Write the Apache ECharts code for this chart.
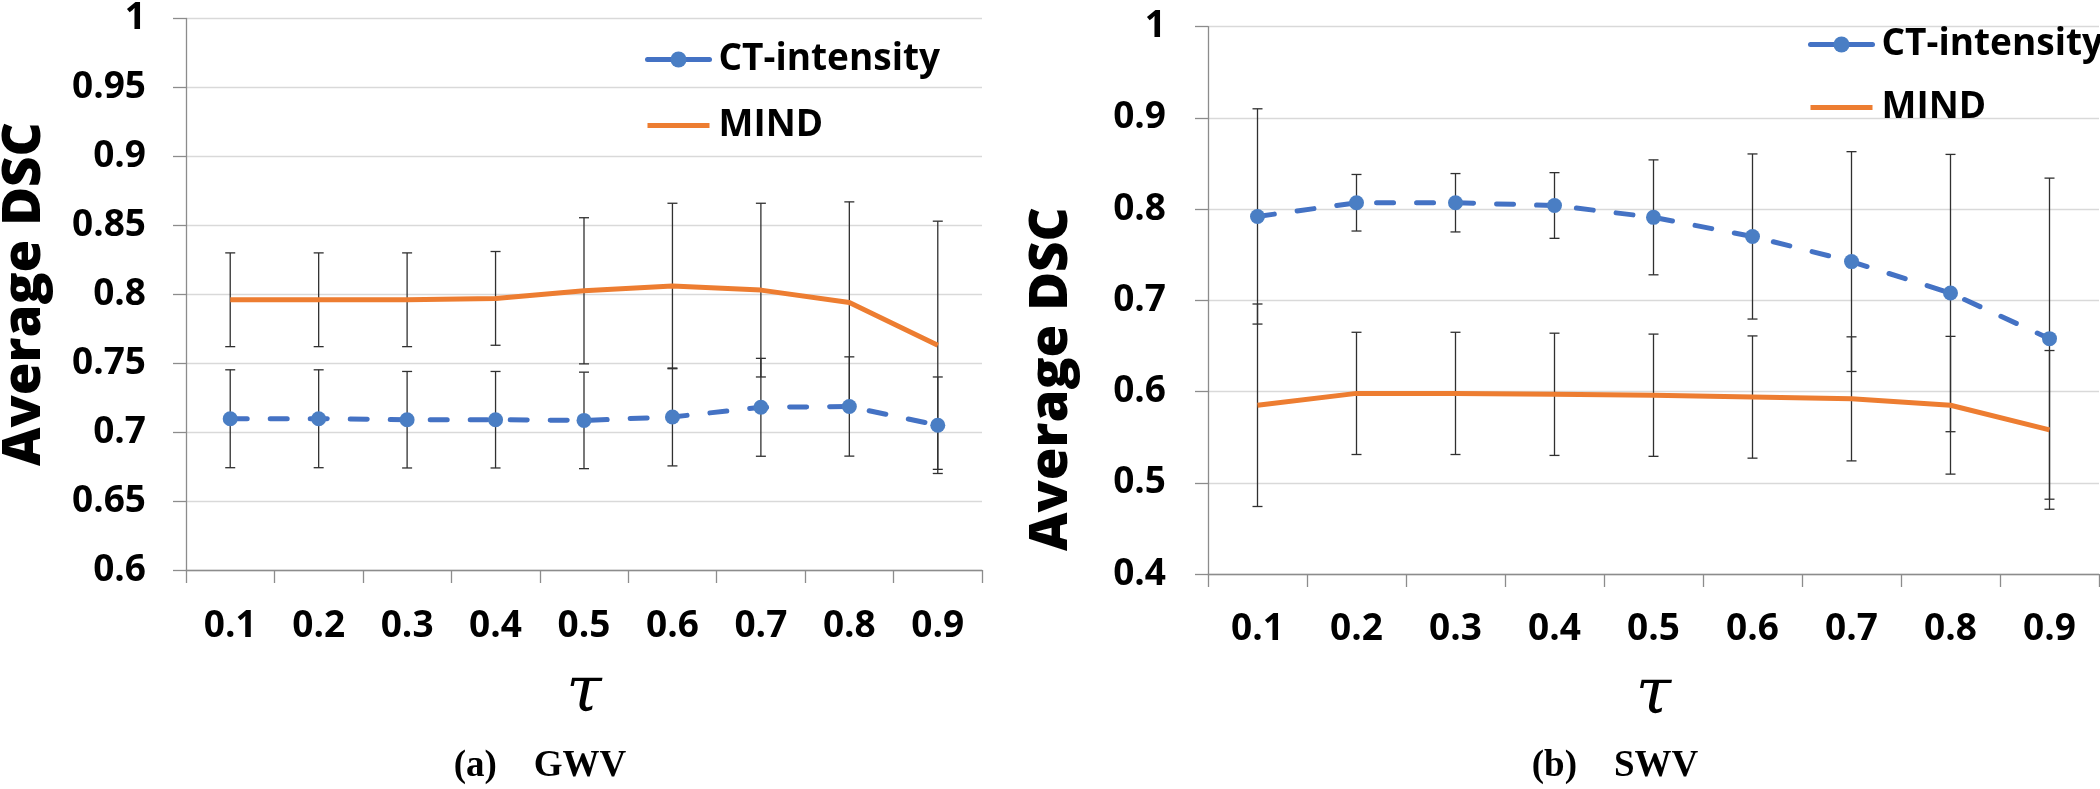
<!DOCTYPE html>
<html>
<head>
<meta charset="utf-8">
<script src="https://cdn.jsdelivr.net/npm/echarts@6/dist/echarts.min.js"></script>
<style>
html,body{margin:0;padding:0;background:#fff;}
#chart{width:2100px;height:789px;}
</style>
</head>
<body>
<div id="chart"></div>
<script>
// ---- data ----
var tauLabels = ['0.1','0.2','0.3','0.4','0.5','0.6','0.7','0.8','0.9'];

// (a) GWV
var gwvCtMean   = [0.7097, 0.7097, 0.709, 0.709, 0.7085, 0.711, 0.718, 0.7186, 0.705];
var gwvCtErr    = [0.0355, 0.0355, 0.035, 0.035, 0.035, 0.0355, 0.0355, 0.036, 0.035];
var gwvMindMean = [0.796, 0.796, 0.796, 0.797, 0.8025, 0.806, 0.803, 0.794, 0.763];
var gwvMindErr  = [0.034, 0.034, 0.034, 0.034, 0.053, 0.060, 0.063, 0.073, 0.090];

// (b) SWV
var swvCtMean   = [0.792, 0.807, 0.807, 0.804, 0.791, 0.770, 0.7425, 0.708, 0.658];
var swvCtErr    = [0.118, 0.031, 0.032, 0.036, 0.063, 0.0905, 0.1205, 0.152, 0.176];
var swvMindMean = [0.585, 0.598, 0.598, 0.597, 0.596, 0.594, 0.592, 0.585, 0.558];
var swvMindErr  = [0.111, 0.067, 0.067, 0.067, 0.067, 0.067, 0.068, 0.0755, 0.087];

var seriesNames = ['CT-intensity', 'MIND'];
var panelCaptions = ['(a)    GWV', '(b)    SWV'];
var yTitle = 'Average DSC';
var xTitle = '\u03C4';

// ---- helpers ----
function errData(mean, err) {
  return mean.map(function (m, i) { return [i, m - err[i], m + err[i]]; });
}
function renderErr(params, api) {
  var x = api.value(0), lo = api.value(1), hi = api.value(2);
  var p1 = api.coord([x, hi]), p2 = api.coord([x, lo]);
  var hw = 5;
  var st = { stroke: '#303030', lineWidth: 1.3 };
  return {
    type: 'group',
    children: [
      { type: 'line', shape: { x1: p1[0], y1: p1[1], x2: p2[0], y2: p2[1] }, style: st },
      { type: 'line', shape: { x1: p1[0] - hw, y1: p1[1], x2: p1[0] + hw, y2: p1[1] }, style: st },
      { type: 'line', shape: { x1: p2[0] - hw, y1: p2[1], x2: p2[0] + hw, y2: p2[1] }, style: st }
    ]
  };
}

var FONT = 'Open Sans';
var axisGrey = '#8c8c8c';
var gridGrey = '#d9d9d9';
var ctColor = '#4472C4';
var ctMarker = '#4A7EC4';
var mindColor = '#ED7D31';

function xAxisCfg(gridIndex, labelMargin, nameGap) {
  return {
    type: 'category', gridIndex: gridIndex, data: tauLabels, boundaryGap: true,
    axisLine: { show: true, lineStyle: { color: axisGrey, width: 1.3 } },
    axisTick: { show: true, length: 13, lineStyle: { color: axisGrey, width: 1.3 } },
    axisLabel: { margin: labelMargin, color: '#000', fontFamily: FONT, fontWeight: 'bold', fontSize: 37 },
    splitLine: { show: false },
    name: xTitle, nameLocation: 'middle', nameGap: nameGap,
    nameTextStyle: { fontFamily: 'DejaVu Serif', fontStyle: 'italic', fontSize: 64, color: '#000' }
  };
}
function yAxisCfg(gridIndex, min, max, interval, labelMargin) {
  return {
    type: 'value', gridIndex: gridIndex, min: min, max: max, interval: interval,
    axisLine: { show: true, lineStyle: { color: axisGrey, width: 1.3 } },
    axisTick: { show: true, length: 13, lineStyle: { color: axisGrey, width: 1.3 } },
    axisLabel: { margin: labelMargin, color: '#000', fontFamily: FONT, fontWeight: 'bold', fontSize: 37 },
    splitLine: { show: true, lineStyle: { color: gridGrey, width: 1.3 } }
  };
}
function ctSeries(idx, data) {
  return {
    name: seriesNames[0], type: 'line', xAxisIndex: idx, yAxisIndex: idx, data: data,
    symbol: 'circle', symbolSize: 15, z: 4,
    lineStyle: { color: ctColor, width: 5, type: [17, 23], cap: 'round' },
    itemStyle: { color: ctMarker }
  };
}
function mindSeries(idx, data) {
  return {
    name: seriesNames[1], type: 'line', xAxisIndex: idx, yAxisIndex: idx, data: data,
    symbol: 'none', z: 3,
    lineStyle: { color: mindColor, width: 5 },
    itemStyle: { color: mindColor }
  };
}
function errSeries(idx, mean, err) {
  return {
    type: 'custom', xAxisIndex: idx, yAxisIndex: idx, renderItem: renderErr,
    data: errData(mean, err), encode: { x: 0, y: [1, 2] }, z: 2, silent: true
  };
}
function legendCfg(left, top, gap) {
  return {
    data: [
      { name: seriesNames[0], lineStyle: { width: 5, type: 'solid', color: ctColor }, itemStyle: { color: ctMarker } },
      { name: seriesNames[1], lineStyle: { width: 5, type: 'solid', color: mindColor }, itemStyle: { opacity: 0 } }
    ],
    orient: 'vertical', left: left, top: top, itemGap: gap,
    itemWidth: 62, itemHeight: 20,
    textStyle: { fontFamily: FONT, fontWeight: 'bold', fontSize: 37, color: '#000', padding: [0, 0, 0, 4] }
  };
}

var chart = echarts.init(document.getElementById('chart'), null, { renderer: 'canvas' });
chart.setOption({
  animation: false,
  backgroundColor: '#fff',
  grid: [
    { left: 186, top: 17.3, width: 796, height: 552.7 },
    { left: 1208, top: 26.7, width: 891, height: 547.3 }
  ],
  xAxis: [xAxisCfg(0, 38, 92), xAxisCfg(1, 37, 90)],
  yAxis: [yAxisCfg(0, 0.6, 1, 0.05, 40), yAxisCfg(1, 0.4, 1, 0.1, 42)],
  legend: [legendCfg(640, 36, 29), legendCfg(1803, 21, 26)],
  series: [
    errSeries(0, gwvMindMean, gwvMindErr),
    errSeries(0, gwvCtMean, gwvCtErr),
    mindSeries(0, gwvMindMean),
    ctSeries(0, gwvCtMean),
    errSeries(1, swvMindMean, swvMindErr),
    errSeries(1, swvCtMean, swvCtErr),
    mindSeries(1, swvMindMean),
    ctSeries(1, swvCtMean)
  ],
  graphic: [
    { type: 'text', x: 25, y: 294, rotation: Math.PI / 2,
      style: { text: yTitle, fontFamily: FONT, fontWeight: 800, fontSize: 53, fill: '#000', align: 'center', verticalAlign: 'middle' } },
    { type: 'text', x: 1052, y: 379, rotation: Math.PI / 2,
      style: { text: yTitle, fontFamily: FONT, fontWeight: 800, fontSize: 53, fill: '#000', align: 'center', verticalAlign: 'middle' } },
    { type: 'text', x: 540, y: 766,
      style: { text: panelCaptions[0], fontFamily: 'Liberation Serif', fontWeight: 'bold', fontSize: 37, fill: '#000', align: 'center', verticalAlign: 'middle' } },
    { type: 'text', x: 1615, y: 766,
      style: { text: panelCaptions[1], fontFamily: 'Liberation Serif', fontWeight: 'bold', fontSize: 37, fill: '#000', align: 'center', verticalAlign: 'middle' } }
  ]
});
</script>
</body>
</html>
